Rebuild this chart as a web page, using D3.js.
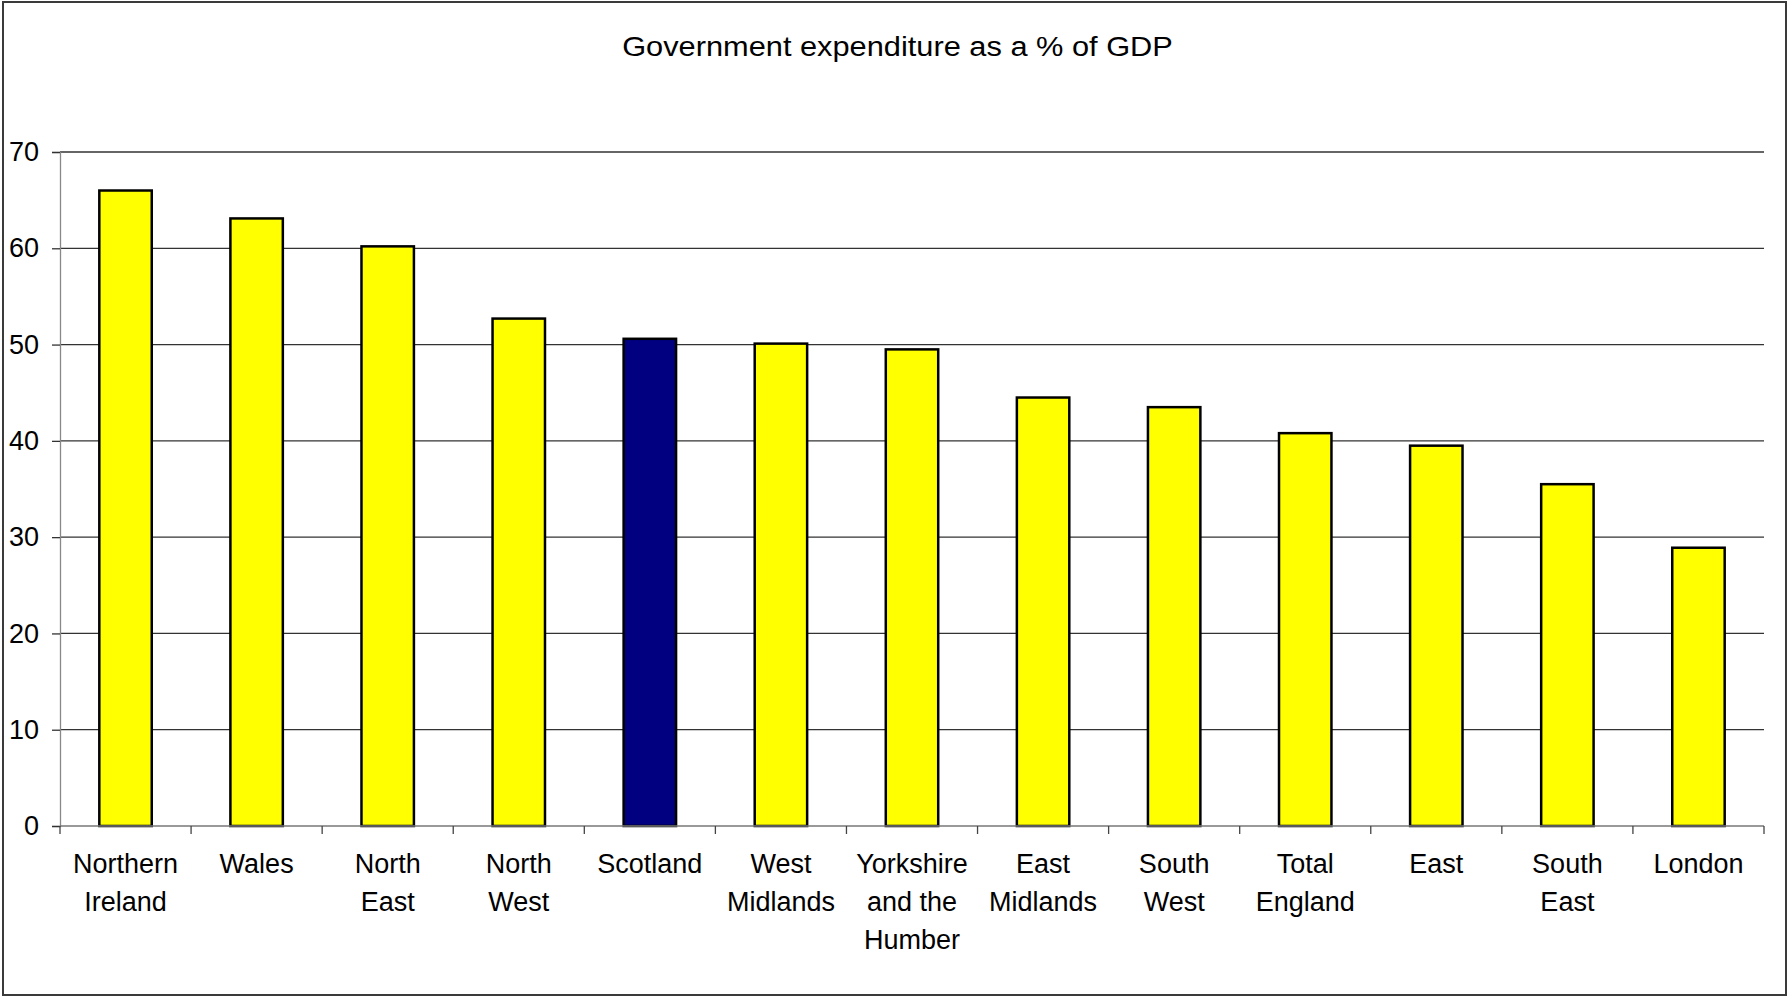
<!DOCTYPE html>
<html>
<head>
<meta charset="utf-8">
<script src="https://cdn.jsdelivr.net/npm/d3@7"></script>
<style>
	body { margin: 0; background: #fff; }
	svg { display: block; font-family: 'Liberation Sans', Arial, sans-serif; }
</style>
</head>
<body>
<div id="chart"></div>
<script>
// данные графика
var regions = ['Northern Ireland', 'Wales', 'North East', 'North West', 'Scotland', 'West Midlands',
	'Yorkshire and the Humber', 'East Midlands', 'South West', 'Total England', 'East', 'South East', 'London'];
var regionLines = [['Northern', 'Ireland'], ['Wales'], ['North', 'East'], ['North', 'West'], ['Scotland'],
	['West', 'Midlands'], ['Yorkshire', 'and the', 'Humber'], ['East', 'Midlands'], ['South', 'West'],
	['Total', 'England'], ['East'], ['South', 'East'], ['London']];
var expenditure = [66.0, 63.1, 60.2, 52.7, 50.6, 50.1, 49.5, 44.5, 43.5, 40.8, 39.5, 35.5, 28.9];
var highlighted = ['Scotland'];
var yTicks = [0, 10, 20, 30, 40, 50, 60, 70];
var title = 'Government expenditure as a % of GDP';

var svgWidth = 1789;
var svgHeight = 997;
var plotLeft = 60, plotRight = 1764, plotTop = 152, plotBottom = 826;

var svg = d3.select('#chart')
	.append('svg')
	.attr('width', svgWidth)
	.attr('height', svgHeight);

// рамка
svg.append('rect')
	.attr('x', 3).attr('y', 2)
	.attr('width', 1783).attr('height', 993)
	.style('fill', '#fff')
	.style('stroke', '#3a3a3a')
	.style('stroke-width', 2);

// заголовок (растягиваем по ширине как в оригинале)
var titleText = svg.append('text')
	.attr('text-anchor', 'middle')
	.style('font-size', '27.5px')
	.style('fill', '#000')
	.text(title);
var titleScale = 551 / titleText.node().getComputedTextLength();
titleText.attr('transform', 'translate(' + ((622 + 1173) / 2) + ',56) scale(' + titleScale + ',1)');

var y = d3.scaleLinear().domain([0, 70]).range([plotBottom, plotTop]);
var x = d3.scaleBand().domain(regions).range([plotLeft, plotRight]).paddingInner(0.6).paddingOuter(0.3);
var xCat = d3.scaleBand().domain(regions).range([plotLeft, plotRight]).padding(0);

// сетка
svg.append('g')
	.selectAll('line')
	.data(yTicks.filter(function(d) { return d > 0; }))
	.enter()
	.append('line')
	.attr('x1', plotLeft).attr('x2', plotRight)
	.attr('y1', function(d) { return y(d); })
	.attr('y2', function(d) { return y(d); })
	.style('stroke', '#333')
	.style('stroke-width', 1.3);

// ось Y
var yAxis = svg.append('g')
	.attr('transform', 'translate(' + plotLeft + ',0)')
	.call(d3.axisLeft(y).tickValues(yTicks).tickSize(8).tickPadding(13));
yAxis.select('.domain').style('stroke', '#888').style('stroke-width', 1.3);
yAxis.selectAll('.tick line').style('stroke', '#333').style('stroke-width', 1.3);
yAxis.selectAll('.tick text')
	.style('font-size', '27px')
	.style('fill', '#000')
	.style('font-family', "'Liberation Sans', Arial, sans-serif");

// столбцы
svg.append('g')
	.selectAll('rect')
	.data(expenditure)
	.enter()
	.append('rect')
	.attr('x', function(d, i) { return x(regions[i]); })
	.attr('width', x.bandwidth())
	.attr('y', function(d) { return y(d); })
	.attr('height', function(d) { return y(0) - y(d); })
	.style('fill', function(d, i) { return highlighted.indexOf(regions[i]) >= 0 ? '#000080' : '#ffff00'; })
	.style('stroke', '#000')
	.style('stroke-width', 2.5);

// ось X
var xAxis = svg.append('g')
	.attr('transform', 'translate(0,' + plotBottom + ')');
xAxis.append('line')
	.attr('x1', plotLeft).attr('x2', plotRight)
	.style('stroke', '#777')
	.style('stroke-width', 1.5);
xAxis.selectAll('.xtick')
	.data(regions.concat(['end']))
	.enter()
	.append('line')
	.attr('class', 'xtick')
	.attr('x1', function(d, i) { return plotLeft + i * xCat.step(); })
	.attr('x2', function(d, i) { return plotLeft + i * xCat.step(); })
	.attr('y1', 0).attr('y2', 8)
	.style('stroke', '#444')
	.style('stroke-width', 1.3);

var labels = xAxis.selectAll('.xlabel')
	.data(regions)
	.enter()
	.append('text')
	.attr('class', 'xlabel')
	.attr('text-anchor', 'middle')
	.attr('transform', function(d) { return 'translate(' + (xCat(d) + xCat.bandwidth() / 2) + ',47)'; })
	.style('font-size', '27px')
	.style('fill', '#000');

labels.selectAll('tspan')
	.data(function(d, i) { return regionLines[i]; })
	.enter()
	.append('tspan')
	.attr('x', 0)
	.attr('y', function(d, i) { return i * 38; })
	.text(function(d) { return d; });
</script>
</body>
</html>
